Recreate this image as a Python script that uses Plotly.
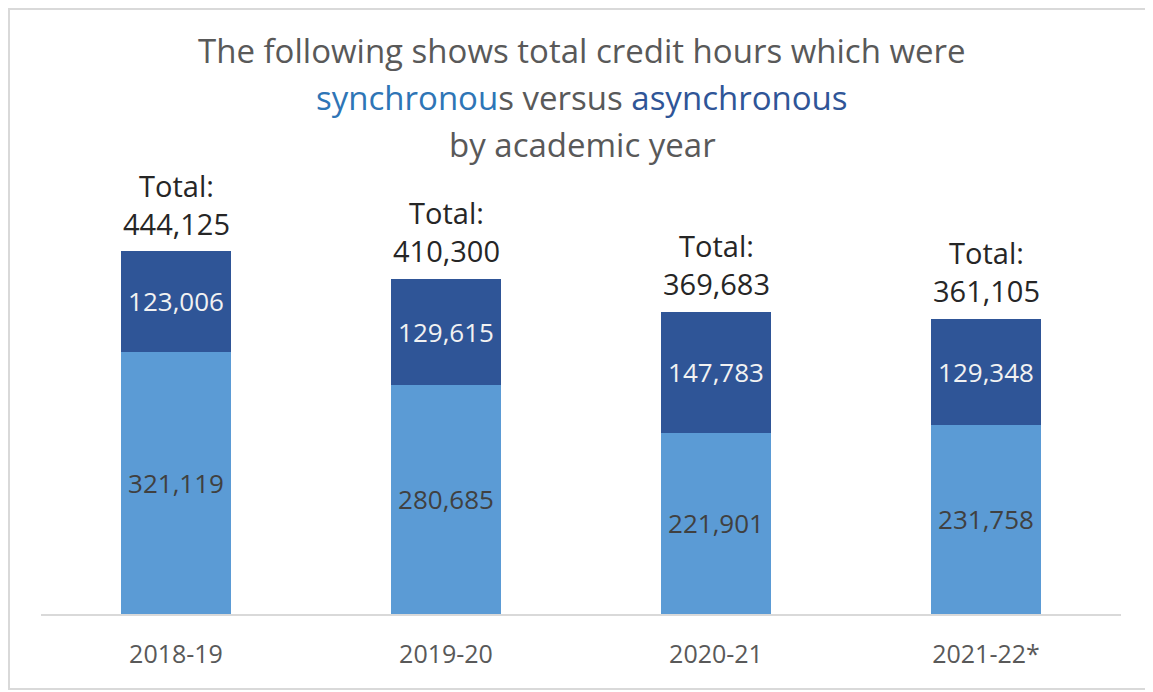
import plotly.graph_objects as go

years = ["2018-19", "2019-20", "2020-21", "2021-22*"]
synchronous = [321119, 280685, 221901, 231758]
asynchronous = [123006, 129615, 147783, 129348]
totals = [444125, 410300, 369683, 361105]

FONT = "Open Sans"
OFF = 8  # default page body margin
W, H = 1153 - OFF, 692 - OFF
# target page pixels
PL, PR, PT, PB = 41, 1121, 20, 614
ML, MR, MT = PL - OFF, W - (PR - OFF), PT - OFF
MB = H - (PB - OFF)
plot_h = PB - PT
plot_w = PR - PL
px_per_unit = 363 / 444125
y_max = plot_h / px_per_unit

def fmt(v):
    return f"{v:,}"

fig = go.Figure()
fig.add_trace(go.Bar(
    x=years, y=synchronous, name="synchronous",
    marker=dict(color="#5B9BD5", line=dict(width=0)),
    text=[fmt(v) for v in synchronous], textposition="inside",
    insidetextanchor="middle",
    textfont=dict(family=FONT, size=26, color="#404040"),
    hoverinfo="skip",
))
fig.add_trace(go.Bar(
    x=years, y=asynchronous, name="asynchronous",
    marker=dict(color="#2F5597", line=dict(width=0)),
    text=[fmt(v) for v in asynchronous], textposition="inside",
    insidetextanchor="middle",
    textfont=dict(family=FONT, size=26, color="#F2F2F2"),
    hoverinfo="skip",
))

annotations = []
tot_font = dict(family=FONT, size=29, color="#262626")
for yr, t in zip(years, totals):
    annotations.append(dict(
        x=yr, y=t, xref="x", yref="y", yanchor="middle", yshift=47,
        text=f"Total:<br>{fmt(t)}", showarrow=False, font=tot_font,
    ))

def py(pix):
    return (PB - pix) / plot_h

def px(pix):
    return (pix - PL) / plot_w

title_font = dict(family=FONT, size=33, color="#595959")
annotations += [
    dict(x=px(582), y=py(50), xref="paper", yref="paper", yanchor="middle",
         text="The following shows total credit hours which were",
         showarrow=False, font=title_font),
    dict(x=px(582), y=py(97), xref="paper", yref="paper", yanchor="middle",
         text="<span style='color:#2E75B6'>synchronou</span>s versus "
              "<span style='color:#2F5597'>asynchronous</span>",
         showarrow=False, font=title_font),
    dict(x=px(582), y=py(144), xref="paper", yref="paper", yanchor="middle",
         text="by academic year", showarrow=False, font=title_font),
]

fig.update_layout(
    width=W, height=H,
    margin=dict(l=ML, r=MR, t=MT, b=MB),
    barmode="stack", bargap=0.596,
    showlegend=False,
    plot_bgcolor="white", paper_bgcolor="white",
    uniformtext=dict(mode=False),
    annotations=annotations,
    shapes=[dict(type="rect", xref="paper", yref="paper",
                 x0=px(OFF + 1), x1=px(1175), y0=py(689), y1=py(OFF + 1),
                 line=dict(color="#D9D9D9", width=2), layer="below")],
    xaxis=dict(showline=True, linecolor="#D9D9D9", linewidth=2,
               showgrid=False, ticks="", ticklabelstandoff=17,
               tickfont=dict(family=FONT, size=25, color="#595959")),
    yaxis=dict(range=[0, y_max], visible=False, showgrid=False),
)

fig.write_html("out.html")
